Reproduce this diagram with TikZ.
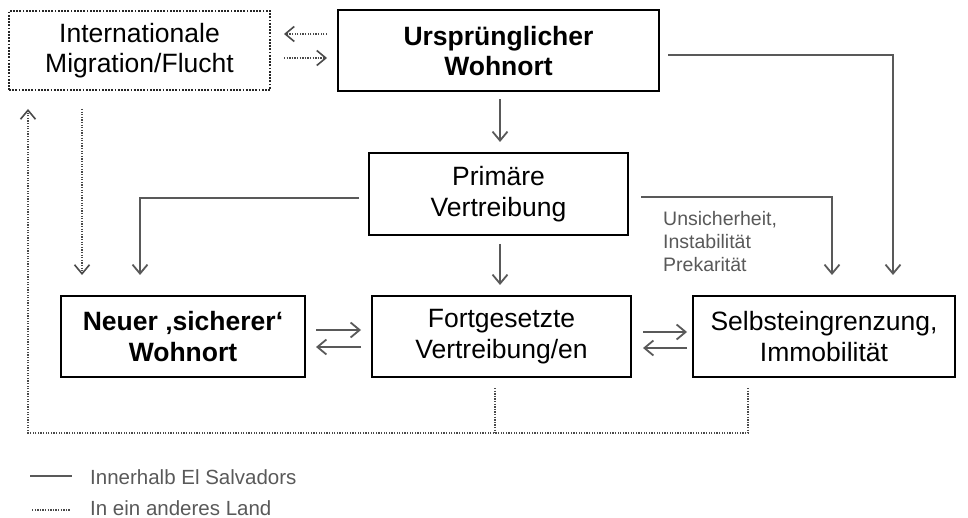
\documentclass[tikz,border=0pt]{standalone}
\usepackage{fontspec}
\setmainfont{Liberation Sans}
\usetikzlibrary{arrows.meta,calc}
\definecolor{arrgray}{HTML}{595959}
\definecolor{dotgray}{HTML}{4A4A4A}
\definecolor{txtgray}{HTML}{595959}
\begin{document}
\begin{tikzpicture}[x=1pt,y=-1pt,
  box/.style={draw=black,line width=2pt,minimum height=81pt,align=center,
    inner sep=0pt,font=\fontsize{26.5}{30.5}\selectfont},
  dotbox/.style={box,draw=black!85,dash pattern=on 1.8pt off 1.4pt},
  arr/.style={draw=arrgray,line width=1.8pt,-{Straight Barb[length=9pt,width=15pt]}},
  dotarr/.style={arr,draw=dotgray,line width=1.6pt,dash pattern=on 1.3pt off 1.3pt},
  dotline/.style={draw=dotgray,line width=1.6pt,dash pattern=on 1.3pt off 1.3pt},
  solidline/.style={draw=arrgray,line width=1.8pt},
  small/.style={text=txtgray,align=left,inner sep=0pt,font=\fontsize{19.5}{23}\selectfont},
  legtext/.style={text=txtgray,anchor=west,inner sep=0pt,font=\fontsize{20.5}{24}\selectfont}]
\useasboundingbox (0,0) rectangle (968,518);

% boxes
\node[dotbox,minimum width=261pt,minimum height=79pt] (intl) at (139.5,50.5) {Internationale\\Migration/Flucht};
\node[box,minimum width=321pt] (urs) at (498.5,51) {\textbf{Ursprünglicher}\\\textbf{Wohnort}};
\node[box,minimum width=259pt,minimum height=82pt] (prim) at (498.5,194) {Primäre\\Vertreibung};
\node[box,minimum width=244pt] (neu) at (183,336.5) {\textbf{Neuer ‚sicherer‘}\\\textbf{Wohnort}};
\node[box,minimum width=259pt] (fort) at (501.5,336.5) {Fortgesetzte\\Vertreibung/en};
\node[box,minimum width=262pt] (selb) at (824,336.5) {Selbsteingrenzung,\\Immobilität};

% label
\node[small,anchor=north west] (lab) at (663,211) {Unsicherheit,\\Instabilität\\Prekarität};

% helper coordinates
\coordinate (c1) at (500,34);
\coordinate (c2) at (500,58);
\coordinate (pl) at (140,198);
\coordinate (pr) at (832,197);
\coordinate (ur) at (893,55);
\coordinate (il) at (82,0);
\coordinate (bf) at (495,433);
\coordinate (bs) at (748,433);
\coordinate (bl) at (28,433);
\coordinate (h1) at (0,330);
\coordinate (h2) at (0,347);
\coordinate (h3) at (0,332);
\coordinate (h4) at (0,348);

% solid connectors
\draw[arr,shorten <=7pt,shorten >=10pt] (urs.south -| 500,0) -- (prim.north -| 500,0);
\draw[arr,shorten <=8pt,shorten >=10pt] (prim.south -| 500,0) -- (fort.north -| 500,0);
\draw[arr,shorten <=9pt,shorten >=20pt] (prim.west |- pl) -| (neu.north -| pl);
\draw[arr,shorten <=12pt,shorten >=20pt] (prim.east |- pr) -| (selb.north -| pr);
\draw[arr,shorten <=8pt,shorten >=20pt] (urs.east |- ur) -| (selb.north -| ur);
\draw[arr,shorten <=10pt,shorten >=10pt] (neu.east |- h1) -- (fort.west |- h1);
\draw[arr,shorten <=10pt,shorten >=10pt] (fort.west |- h2) -- (neu.east |- h2);
\draw[arr,shorten <=11pt,shorten >=5pt] (fort.east |- h3) -- (selb.west |- h3);
\draw[arr,shorten <=5pt,shorten >=11pt] (selb.west |- h4) -- (fort.east |- h4);

% dotted connectors
\draw[dotarr,shorten <=10pt,shorten >=13pt] (urs.west |- c1) -- (intl.east |- c1);
\draw[dotarr,shorten <=13pt,shorten >=10pt] (intl.east |- c2) -- (urs.west |- c2);
\draw[dotarr,shorten <=18pt,shorten >=20pt] (intl.south -| il) -- (neu.north -| il);
\draw[dotline,shorten <=10pt] (fort.south -| bf) -- (bf);
\draw[dotarr,shorten <=10pt,shorten >=18pt] (selb.south -| bs) -- (bs) -- (bl) -- (intl.south -| bl);

% legend
\coordinate (l1a) at (30,476);
\coordinate (l1b) at (72,476);
\coordinate (l2a) at (32,510);
\coordinate (l2b) at (70,510);
\draw[solidline] (l1a) -- (l1b);
\draw[dotline] (l2a) -- (l2b);
\node[legtext] (leg1) at (90,477) {Innerhalb El Salvadors};
\node[legtext] (leg2) at (90,508) {In ein anderes Land};
\end{tikzpicture}
\end{document}
